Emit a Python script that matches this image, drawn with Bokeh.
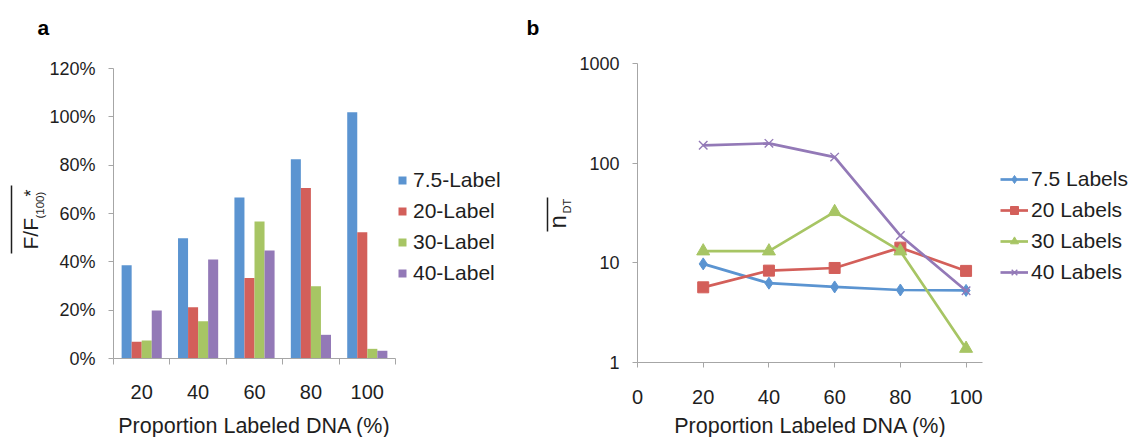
import math
from bokeh.plotting import figure
from bokeh.layouts import row
from bokeh.models import (Range1d, FixedTicker, NumeralTickFormatter, Legend,
                          LegendItem, Label, Arrow, ColumnDataSource)
from bokeh.transform import dodge
from bokeh.embed import file_html
from bokeh.resources import INLINE

# ---------------- data ----------------
categories = ["20", "40", "60", "80", "100"]
bar_series = ["7.5-Label", "20-Label", "30-Label", "40-Label"]
bar_7_5 = [0.386, 0.498, 0.666, 0.825, 1.019]
bar_20 = [0.069, 0.212, 0.333, 0.706, 0.522]
bar_30 = [0.075, 0.154, 0.567, 0.299, 0.040]
bar_40 = [0.199, 0.410, 0.447, 0.098, 0.032]
pct_ticks = [0, 0.2, 0.4, 0.6, 0.8, 1.0, 1.2]

x_b = [20, 40, 60, 80, 100]
line_series = ["7.5 Labels", "20 Labels", "30 Labels", "40 Labels"]
n_7_5 = [9.76, 6.25, 5.73, 5.34, 5.29]
n_20 = [5.68, 8.35, 8.88, 14.2, 8.3]
n_30 = [13.1, 13.1, 32.5, 13.1, 1.38]
n_40 = [151, 158, 115, 18.8, 5.25]
x_ticks_b = [0, 20, 40, 60, 80, 100]
y_ticks_b = [1, 10, 100, 1000]

colors = ["#5B94D1", "#D35F5A", "#A7C564", "#9379B7"]
FONT = "Liberation Sans"
AXIS = "#A6A6A6"
TXT = "#1E1E1E"
H = 437


def lab(x, y, text, size, angle=0.0, bold=False, align="left"):
    return Label(x=x, y=y, text=text, angle=angle, text_font=FONT,
                 text_font_size=size, text_color=TXT if not bold else "black",
                 text_font_style="bold" if bold else "normal",
                 text_align=align, text_baseline="bottom")


# ---------------- panel a ----------------
A_W = 520
A_X0, A_X1 = 113, 395      # px of x = 0.5 / 5.5
A_Y0, A_Y1 = 358, 68       # px of y = 0 / 1.2
a_sx = (A_X1 - A_X0) / 5.0
a_sy = (A_Y0 - A_Y1) / 1.2


def ax(px):
    return 0.5 + (px - A_X0) / a_sx


def ay(py):
    return (A_Y0 - py) / a_sy


pa = figure(width=A_W, height=H, output_backend="svg", toolbar_location=None,
            x_range=Range1d(ax(0), ax(A_W)), y_range=Range1d(ay(H), ay(0)),
            min_border=0)
pa.outline_line_color = None
pa.grid.grid_line_color = None

src = ColumnDataSource(dict(x=list(range(1, len(categories) + 1)),
                            s0=bar_7_5, s1=bar_20, s2=bar_30, s3=bar_40))
bw = 0.178
offs = [-1.5 * bw, -0.5 * bw, 0.5 * bw, 1.5 * bw]
bar_r = []
for i in range(4):
    r = pa.vbar(x=dodge("x", offs[i], range=pa.x_range), top="s%d" % i, width=bw,
                source=src, fill_color=colors[i], line_color=None)
    bar_r.append(r)

pa.yaxis.fixed_location = 0.5
pa.xaxis.fixed_location = 0
pa.yaxis.bounds = (0, 1.2)
pa.xaxis.bounds = (0.5, 5.5)
pa.yaxis.ticker = FixedTicker(ticks=pct_ticks)
pa.yaxis.formatter = NumeralTickFormatter(format="0%")
pa.xaxis.ticker = FixedTicker(ticks=[1, 2, 3, 4, 5],
                              minor_ticks=[0.5, 1.5, 2.5, 3.5, 4.5, 5.5])
pa.xaxis.major_label_overrides = {i + 1: c for i, c in enumerate(categories)}
for a in pa.axis:
    a.axis_line_color = AXIS
    a.major_tick_line_color = AXIS
    a.minor_tick_line_color = AXIS
    a.major_label_text_font = FONT
    a.major_label_text_color = TXT
pa.xaxis.major_tick_out = 0
pa.xaxis.major_tick_in = 0
pa.xaxis.minor_tick_out = 6
pa.xaxis.minor_tick_in = 0
pa.xaxis.major_label_text_font_size = "20px"
pa.xaxis.major_label_standoff = 20
pa.yaxis.major_tick_out = 5
pa.yaxis.major_tick_in = 0
pa.yaxis.minor_tick_line_color = None
pa.yaxis.major_label_text_font_size = "18px"
pa.yaxis.major_label_standoff = 13

leg_a = Legend(items=[LegendItem(label=bar_series[i], renderers=[bar_r[i]]) for i in range(4)],
               location=(397, H - 285),
               glyph_width=10, glyph_height=10, label_standoff=6, padding=0, margin=0,
               spacing=7, label_height=20, border_line_color=None,
               background_fill_alpha=0, label_text_font=FONT,
               label_text_font_size="21px", label_text_color=TXT)
pa.add_layout(leg_a)

pa.add_layout(lab(ax(37), ay(38), "a", "21px", bold=True))
pa.add_layout(lab(ax(254), ay(437), "Proportion Labeled DNA (%)", "21.5px", align="center"))
# y-axis title: overline(F/F_(100))*
pa.add_layout(lab(ax(41.5), ay(249), "F/F", "21px", angle=math.pi / 2))
pa.add_layout(lab(ax(45), ay(218), "(100)", "11.5px", angle=math.pi / 2))
pa.add_layout(lab(ax(40), ay(196), "*", "18px", angle=math.pi / 2))
pa.add_layout(Arrow(x_start=ax(11), y_start=ay(253), x_end=ax(11), y_end=ay(185),
                    end=None, line_color=TXT, line_width=1.5))

# ---------------- panel b ----------------
B_W = 611
B_OFF = A_W                 # canvas b starts at page x = 520
B_X0, B_X1 = 637 - B_OFF, 982 - B_OFF   # px of x = 0 / 105
B_Y0, B_Y1 = 362, 63                     # px of y = 1 / 1000
b_sx = (B_X1 - B_X0) / 105.0
b_dec = (B_Y0 - B_Y1) / 3.0


def bx(px):
    return (px - B_OFF - B_X0) / b_sx


def by(py):
    return 10 ** ((B_Y0 - py) / b_dec)


pb = figure(width=B_W, height=H, output_backend="svg", toolbar_location=None,
            y_axis_type="log",
            x_range=Range1d(bx(B_OFF), bx(B_OFF + B_W)), y_range=Range1d(by(H), by(0)),
            min_border=0)
pb.outline_line_color = None
pb.grid.grid_line_color = None

pb.xaxis.fixed_location = 1
pb.yaxis.fixed_location = 0
pb.xaxis.bounds = (0, 105)
pb.yaxis.bounds = (1, 1000)
pb.xaxis.ticker = FixedTicker(ticks=x_ticks_b)
pb.yaxis.ticker = FixedTicker(ticks=y_ticks_b)
pb.yaxis.formatter = NumeralTickFormatter(format="0")
for a in pb.axis:
    a.axis_line_color = AXIS
    a.major_tick_line_color = AXIS
    a.minor_tick_line_color = None
    a.major_tick_out = 5
    a.major_tick_in = 0
    a.major_label_text_font = FONT
    a.major_label_text_color = TXT
pb.xaxis.major_label_text_font_size = "20px"
pb.xaxis.major_label_standoff = 22
pb.yaxis.major_label_text_font_size = "18px"
pb.yaxis.major_label_standoff = 13

series_b = [n_7_5, n_20, n_30, n_40]
markers = ["diamond", "square", "triangle", "x"]
msizes = [12, 11, 13, 12]
items_b = []
for i in range(4):
    ln = pb.line(x_b, series_b[i], line_color=colors[i], line_width=2.7)
    if markers[i] == "x":
        mk = pb.scatter(x_b, series_b[i], marker="x", size=msizes[i],
                        line_color=colors[i], line_width=1.4)
    else:
        mk = pb.scatter(x_b, series_b[i], marker=markers[i], size=msizes[i],
                        fill_color=colors[i], line_color=colors[i])
    items_b.append(LegendItem(label=line_series[i], renderers=[ln, mk]))

leg_b = Legend(items=items_b,
               location=(1000 - B_OFF, H - 284),
               glyph_width=28, glyph_height=20, label_standoff=3, padding=0, margin=0,
               spacing=7, label_height=20, border_line_color=None,
               background_fill_alpha=0, label_text_font=FONT,
               label_text_font_size="21px", label_text_color=TXT)
pb.add_layout(leg_b)

pb.add_layout(lab(bx(526), by(38), "b", "21px", bold=True))
pb.add_layout(lab(bx(810), by(437), "Proportion Labeled DNA (%)", "21.5px", align="center"))
pb.add_layout(lab(bx(570), by(228), "n", "24px", angle=math.pi / 2))
pb.add_layout(lab(bx(572.5), by(213), "DT", "11px", angle=math.pi / 2))
pb.add_layout(Arrow(x_start=bx(547), y_start=by(231), x_end=bx(547), y_end=by(197),
                    end=None, line_color=TXT, line_width=1.5))

layout = row(pa, pb)
open("out.html", "w").write(file_html(layout, INLINE))
